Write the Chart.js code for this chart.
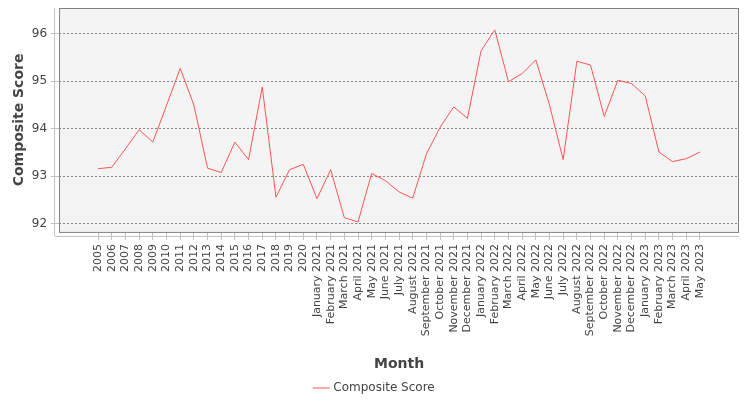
<!DOCTYPE html>
<html>
<head>
<meta charset="utf-8">
<script src="https://cdn.jsdelivr.net/npm/chart.js@4"></script>
<style>
  html, body { margin: 0; padding: 0; background: #fff; }
  #wrap { width: 750px; height: 400px; }
</style>
</head>
<body>
<div id="wrap"><canvas id="scoreChart"></canvas></div>
<script>
// Composite score by month

const months = [
  "2005", "2006", "2007", "2008", "2009", "2010", "2011", "2012",
  "2013", "2014", "2015", "2016", "2017", "2018", "2019", "2020",
  "January 2021", "February 2021", "March 2021", "April 2021", "May 2021", "June 2021",
  "July 2021", "August 2021", "September 2021", "October 2021", "November 2021", "December 2021",
  "January 2022", "February 2022", "March 2022", "April 2022", "May 2022", "June 2022",
  "July 2022", "August 2022", "September 2022", "October 2022", "November 2022", "December 2022",
  "January 2023", "February 2023", "March 2023", "April 2023", "May 2023"
];

const compositeScore = [
  93.16, 93.19, 93.58, 93.98, 93.72, 94.49, 95.27, 94.50,
  93.17, 93.08, 93.72, 93.35, 94.88, 92.56, 93.14, 93.25,
  92.53, 93.14, 92.13, 92.04, 93.06, 92.91,
  92.67, 92.54, 93.47, 94.03, 94.46, 94.22,
  95.64, 96.08, 94.99, 95.16, 95.45, 94.50,
  93.35, 95.42, 95.34, 94.26, 95.02, 94.95,
  94.69, 93.51, 93.31, 93.37, 93.51
];

const yTicks = [92, 93, 94, 95, 96];

// grey plot background + frame, like the original
const plotFrame = {
  id: "plotFrame",
  beforeDraw(chart) {
    const { ctx, chartArea: a } = chart;
    ctx.save();
    ctx.fillStyle = "#f4f4f4";
    ctx.fillRect(a.left, a.top, a.right - a.left, a.bottom - a.top);
    ctx.restore();
  },
  afterDraw(chart) {
    const { ctx, chartArea: a } = chart;
    ctx.save();
    ctx.strokeStyle = "#808080";
    ctx.lineWidth = 1;
    ctx.strokeRect(a.left + 0.5, a.top + 0.5, a.right - a.left - 1, a.bottom - a.top);
    // detached axis lines
    ctx.strokeStyle = "#c0c0c0";
    ctx.beginPath();
    ctx.moveTo(a.left - 4.5, a.top);
    ctx.lineTo(a.left - 4.5, a.bottom + 4);
    ctx.moveTo(a.left - 4, a.bottom + 4.5);
    ctx.lineTo(a.right, a.bottom + 4.5);
    ctx.stroke();
    ctx.restore();
  }
};

Chart.defaults.font.family = "'DejaVu Sans', sans-serif";
Chart.defaults.color = "#444";

const ctx = document.getElementById("scoreChart").getContext("2d");

new Chart(ctx, {
  type: "line",
  data: {
    datasets: [
      {
        label: "Composite Score",
        data: compositeScore.map((v, i) => ({ x: i, y: v })),
        borderColor: "#ff5555",
        backgroundColor: "#ff5555",
        borderWidth: 1,
        pointRadius: 0,
        tension: 0,
        fill: false,
      },
    ],
  },
  options: {
    responsive: true,
    maintainAspectRatio: false,
    animation: false,
    layout: {
      padding: { left: 11, right: 11, top: 8, bottom: -4 },
    },
    plugins: {
      legend: {
        display: true,
        position: "bottom",
        labels: {
          usePointStyle: true,
          pointStyle: "line",
          boxWidth: 18,
          color: "#444",
          font: { size: 12 },
          padding: 0,
        },
      },
      tooltip: { enabled: false },
    },
    scales: {
      x: {
        type: "linear",
        min: -2.855,
        max: 46.855,
        afterBuildTicks: (axis) => {
          axis.ticks = months.map((_, i) => ({ value: i }));
        },
        ticks: {
          autoSkip: false,
          maxRotation: 90,
          minRotation: 90,
          padding: 4,
          color: "#444",
          font: { size: 11 },
          callback: (value) => months[value] ?? "",
        },
        grid: {
          drawOnChartArea: false,
          drawTicks: true,
          tickLength: 8,
          color: "#c0c0c0",
        },
        border: { display: false },
        title: {
          display: true,
          text: "Month",
          color: "#444",
          font: { size: 14, weight: "bold" },
          padding: { top: 16, bottom: 9 },
        },
      },
      y: {
        min: 91.83,
        max: 96.54,
        afterBuildTicks: (axis) => {
          axis.ticks = yTicks.map((v) => ({ value: v }));
        },
        afterFit: (axis) => {
          axis.paddingTop = 0;
          axis.paddingBottom = 0;
        },
        ticks: {
          color: "#444",
          font: { size: 12 },
          padding: 4,
        },
        grid: {
          color: "#888",
          lineWidth: 1,
          tickLength: 8,
          tickColor: "#c0c0c0",
          tickBorderDash: [],
        },
        border: { display: false, dash: [2, 2] },
        title: {
          display: true,
          text: "Composite Score",
          color: "#444",
          font: { size: 14, weight: "bold" },
          padding: { top: 0, bottom: 0 },
        },
      },
    },
  },
  plugins: [plotFrame],
});
</script>
</body>
</html>
